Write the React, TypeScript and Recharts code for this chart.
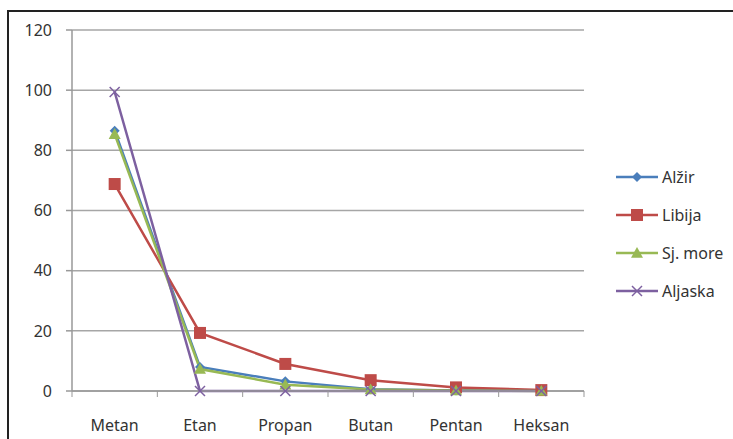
import React from "react";
import { LineChart, Line, XAxis, YAxis, CartesianGrid, Legend } from "recharts";

const categories = ["Metan", "Etan", "Propan", "Butan", "Pentan", "Heksan"];
const alzir = [86.5, 8, 3.2, 0.6, 0.2, 0.1];
const libija = [68.8, 19.3, 9, 3.6, 1.2, 0.3];
const sjMore = [85.4, 7.3, 2.1, 0.5, 0.2, 0];
const aljaska = [99.4, 0, 0, 0, 0, 0];
const yTicks = [0, 20, 40, 60, 80, 100, 120];

const data = categories.map((name, i) => ({
  name,
  alzir: alzir[i],
  libija: libija[i],
  sjMore: sjMore[i],
  aljaska: aljaska[i],
}));

const series = [
  { key: "alzir", name: "Alžir", color: "#4a7ebb", shape: "diamond" },
  { key: "libija", name: "Libija", color: "#be4b48", shape: "square" },
  { key: "sjMore", name: "Sj. more", color: "#98b954", shape: "triangle" },
  { key: "aljaska", name: "Aljaska", color: "#7d60a0", shape: "cross" },
];

const FONT = "'Noto Sans', sans-serif";
const TEXT = "#333";
const BAND = 512 / 6;

function Marker({ cx, cy, shape, color }: any) {
  if (cx == null || cy == null) return null;
  if (shape === "diamond") {
    const r = 5;
    return <polygon points={`${cx},${cy - r} ${cx + r},${cy} ${cx},${cy + r} ${cx - r},${cy}`} fill={color} />;
  }
  if (shape === "square") {
    const r = 6;
    return <rect x={cx - r} y={cy - r} width={2 * r} height={2 * r} fill={color} />;
  }
  if (shape === "triangle") {
    const r = 6;
    return <polygon points={`${cx},${cy - r} ${cx + r},${cy + r * 0.8} ${cx - r},${cy + r * 0.8}`} fill={color} />;
  }
  const r = 5;
  return (
    <g stroke={color} strokeWidth={1.5}>
      <line x1={cx - r} y1={cy - r} x2={cx + r} y2={cy + r} />
      <line x1={cx - r} y1={cy + r} x2={cx + r} y2={cy - r} />
    </g>
  );
}

function XTick({ x, y, payload, index }: any) {
  return (
    <g>
      <line x1={x - BAND / 2} y1={y - 8} x2={x - BAND / 2} y2={y - 2} stroke="#999" />
      {index === categories.length - 1 && (
        <line x1={x + BAND / 2} y1={y - 8} x2={x + BAND / 2} y2={y - 2} stroke="#999" />
      )}
      <text x={x} y={y + 32} textAnchor="middle" fontSize={16} fill={TEXT} fontFamily={FONT}>
        {payload.value}
      </text>
    </g>
  );
}

function LegendContent() {
  return (
    <div>
      {series.map((s) => (
        <div key={s.key} style={{ display: "flex", alignItems: "center", height: 38 }}>
          <svg width={44} height={16}>
            <line x1={0} y1={8} x2={42} y2={8} stroke={s.color} strokeWidth={2.5} />
            <Marker cx={21} cy={8} shape={s.shape} color={s.color} />
          </svg>
          <span style={{ fontFamily: FONT, fontSize: 16, color: TEXT, marginLeft: 2 }}>{s.name}</span>
        </div>
      ))}
    </div>
  );
}

export default function App() {
  return (
    <div style={{ position: "fixed", left: 0, top: 0, width: 733, height: 439, background: "#fff", overflow: "hidden" }}>
      <LineChart
        width={733}
        height={439}
        data={data}
        margin={{ top: 30, right: 149, bottom: 18, left: 16 }}
        style={{ overflow: "visible" }}
      >
        <CartesianGrid vertical={false} stroke="#a6a6a6" strokeWidth={1.5} />
        <XAxis
          dataKey="name"
          scale="band"
          tickLine={false}
          stroke="#999"
          strokeWidth={1.5}
          tick={<XTick />}
          interval={0}
        />
        <YAxis
          domain={[0, 120]}
          ticks={yTicks}
          width={56}
          tickSize={6}
          tickMargin={14}
          stroke="#999"
          strokeWidth={1.5}
          tick={{ fontSize: 16, fill: TEXT, fontFamily: FONT }}
        />
        <Legend
          layout="vertical"
          align="center"
          verticalAlign="middle"
          content={<LegendContent />}
          wrapperStyle={{ left: 616, top: 158, width: 117 }}
        />
        {series.map((s) => (
          <Line
            key={s.key}
            type="linear"
            dataKey={s.key}
            name={s.name}
            stroke={s.color}
            strokeWidth={2.5}
            isAnimationActive={false}
            dot={(p: any) => <Marker key={`${s.key}-${p.index}`} cx={p.cx} cy={p.cy} shape={s.shape} color={s.color} />}
            activeDot={false}
          />
        ))}
      </LineChart>
      <div
        style={{
          position: "absolute",
          left: 7,
          top: 10,
          width: 740,
          height: 440,
          borderLeft: "2px solid #222",
          borderTop: "2px solid #222",
          pointerEvents: "none",
          zIndex: 5,
        }}
      />
    </div>
  );
}
